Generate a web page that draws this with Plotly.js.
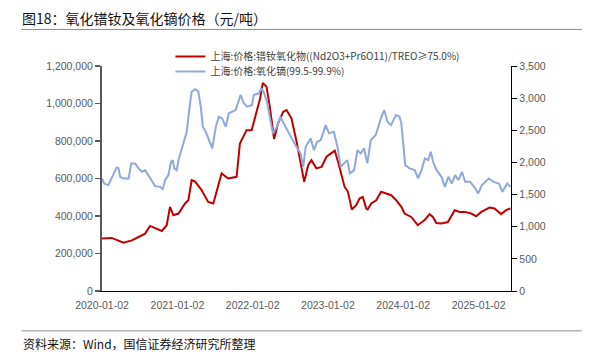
<!DOCTYPE html>
<html>
<head>
<meta charset="utf-8">
<script src="https://cdn.plot.ly/plotly-3.0.1.min.js"></script>
<style>html,body{margin:0;padding:0;background:#fff;}#chart{width:601px;height:363px;}</style>
</head>
<body>
<div id="chart"></div>
<script>
const ndprDates = ["2020-01-02","2020-02-18","2020-04-15","2020-05-26","2020-06-27","2020-07-29","2020-08-22","2020-10-18","2020-11-11","2020-11-27","2020-12-13","2021-01-07","2021-02-08","2021-02-24","2021-03-12","2021-03-28","2021-04-29","2021-05-31","2021-06-25","2021-07-11","2021-08-04","2021-09-05","2021-10-16","2021-11-01","2021-12-03","2021-12-28","2022-01-21","2022-02-07","2022-02-20","2022-03-10","2022-03-26","2022-04-16","2022-05-05","2022-05-30","2022-06-15","2022-07-09","2022-08-03","2022-08-27","2022-09-09","2022-09-28","2022-10-14","2022-11-07","2022-12-02","2022-12-26","2023-01-27","2023-02-04","2023-02-20","2023-03-08","2023-03-24","2023-04-09","2023-04-28","2023-05-19","2023-06-04","2023-06-20","2023-07-07","2023-07-14","2023-07-31","2023-08-24","2023-09-17","2023-10-12","2023-11-05","2023-11-29","2023-12-24","2024-01-09","2024-02-10","2024-03-13","2024-04-15","2024-05-09","2024-05-25","2024-06-11","2024-07-05","2024-08-06","2024-09-08","2024-10-02","2024-10-26","2024-11-27","2024-12-21","2025-01-15","2025-02-24","2025-03-20","2025-04-21","2025-05-15","2025-06-05"];
const ndprValues = [280000,283000,258000,270000,288000,306000,347000,320000,351000,449000,404000,413000,467000,484000,591000,585000,538000,475000,467000,529000,627000,600000,609000,787000,858000,858000,956000,1027000,1110000,1090000,983000,810000,894000,956000,965000,921000,796000,662000,582000,671000,698000,654000,662000,716000,742000,748000,689000,627000,555000,529000,435000,458000,493000,502000,440000,435000,467000,484000,529000,520000,511000,484000,449000,413000,395000,351000,378000,410000,395000,363000,360000,368000,431000,422000,422000,413000,399000,422000,445000,440000,410000,431000,440000];

const dyDates = ["2020-01-02","2020-01-13","2020-02-02","2020-02-26","2020-03-13","2020-03-22","2020-03-30","2020-04-15","2020-05-10","2020-05-23","2020-06-11","2020-06-27","2020-07-14","2020-07-29","2020-08-14","2020-08-31","2020-09-16","2020-10-10","2020-10-23","2020-11-03","2020-11-19","2020-12-02","2020-12-10","2020-12-18","2020-12-29","2021-01-07","2021-01-20","2021-02-04","2021-02-16","2021-02-28","2021-03-12","2021-03-28","2021-04-13","2021-04-26","2021-05-05","2021-05-19","2021-06-04","2021-06-20","2021-07-07","2021-07-22","2021-08-07","2021-08-24","2021-09-08","2021-10-11","2021-11-04","2021-11-20","2021-12-06","2021-12-30","2022-01-07","2022-02-01","2022-02-13","2022-02-24","2022-03-12","2022-03-29","2022-04-10","2022-04-30","2022-05-16","2022-06-10","2022-07-04","2022-07-28","2022-08-22","2022-09-04","2022-09-16","2022-10-10","2022-10-26","2022-11-11","2022-11-28","2022-12-22","2023-01-07","2023-01-31","2023-02-17","2023-03-05","2023-03-21","2023-04-06","2023-04-19","2023-05-09","2023-05-25","2023-06-10","2023-06-26","2023-07-12","2023-07-29","2023-08-22","2023-09-16","2023-10-02","2023-10-18","2023-11-04","2023-11-28","2023-12-15","2023-12-24","2023-12-31","2024-01-12","2024-02-02","2024-02-27","2024-03-14","2024-03-31","2024-04-16","2024-05-02","2024-05-15","2024-05-26","2024-06-12","2024-07-06","2024-07-22","2024-08-08","2024-08-25","2024-09-10","2024-09-26","2024-10-13","2024-10-29","2024-11-22","2024-12-17","2024-12-30","2025-01-18","2025-02-20","2025-03-16","2025-04-10","2025-04-27","2025-05-21","2025-06-05"];
const dyValues = [1750,1670,1647,1829,1922,1910,1776,1751,1751,1985,1985,1907,1854,1880,1803,1725,1631,1620,1580,1725,1803,2010,2036,1907,1880,2036,2192,2348,2477,2815,3100,3138,3110,2850,2555,2477,2348,2219,2555,2711,2685,2555,2764,2815,3049,2920,2867,2893,3049,3075,3153,3100,2945,2686,2452,2555,2711,2555,2400,2270,2141,1932,2243,2374,2192,2321,2348,2581,2452,2477,2243,1932,1985,2036,1829,1880,2192,2140,2220,1985,2348,2426,2686,2815,2633,2581,2737,2711,2607,2348,1958,1907,1880,1751,1880,2063,2036,2166,2010,1880,1776,1620,1776,1673,1803,1725,1854,1698,1698,1595,1517,1647,1751,1698,1673,1542,1673,1620];

const leftTickVals = [0,200000,400000,600000,800000,1000000,1200000];
const leftTickText = ["0","200,000","400,000","600,000","800,000","1,000,000","1,200,000"];
const rightTickVals = [0,500,1000,1500,2000,2500,3000,3500];
const rightTickText = ["0","500","1,000","1,500","2,000","2,500","3,000","3,500"];
const xTickVals = ["2020-01-02","2021-01-02","2022-01-02","2023-01-02","2024-01-02","2025-01-02"];
const xTickText = ["2020-01-02","2021-01-02","2022-01-02","2023-01-02","2024-01-02","2025-01-02"];

const ndprName = "上海:价格:镨钕氧化物((Nd2O3+Pr6O11)/TREO≥75.0%)";
const dyName = "上海:价格:氧化镝(99.5-99.9%)";
const titleText = "图18：氧化镨钕及氧化镝价格（元/吨）";
const sourceText = "资料来源：Wind，国信证券经济研究所整理";

const tickFont = {family: "Liberation Sans, Arial, sans-serif", size: 10.5, color: "#595959"};

const traces = [
  {x: ndprDates, y: ndprValues, name: ndprName, type: "scatter", mode: "lines",
   line: {color: "#C00000", width: 2}, yaxis: "y", legend: "legend"},
  {x: dyDates, y: dyValues, name: dyName, type: "scatter", mode: "lines",
   line: {color: "#8EA9DB", width: 2}, yaxis: "y2", legend: "legend2"}
];

const legendFont = {family: "Noto Sans CJK SC, sans-serif", size: 10, color: "#404040"};
const layout = {
  width: 601, height: 363,
  margin: {l: 101.5, r: 90, t: 66, b: 72.3},
  paper_bgcolor: "#ffffff", plot_bgcolor: "#ffffff",
  showlegend: true,
  title: {text: titleText, x: 22/601, xref: "container", xanchor: "left",
          y: 1 - 19/363, yref: "container", yanchor: "middle",
          font: {family: "Noto Sans CJK SC, sans-serif", size: 14, color: "#111"}},
  xaxis: {type: "date", range: ["2020-01-02", "2025-06-08"], tickvals: xTickVals, ticktext: xTickText,
          showgrid: false, zeroline: false, showline: true, linecolor: "#000", linewidth: 1.2,
          ticks: "", tickfont: tickFont, ticklabelstandoff: 4},
  yaxis: {range: [0, 1200000], tickvals: leftTickVals, ticktext: leftTickText,
          showgrid: false, zeroline: false, showline: true, linecolor: "#595959", linewidth: 2,
          ticks: "outside", ticklen: 5, tickcolor: "#595959", tickwidth: 1.5, tickfont: tickFont},
  yaxis2: {range: [0, 3500], tickvals: rightTickVals, ticktext: rightTickText, overlaying: "y", side: "right",
          showgrid: false, zeroline: false, showline: true, linecolor: "#000", linewidth: 1.2,
          ticks: "outside", ticklen: 5, tickcolor: "#000", tickfont: tickFont},
  legend: {x: (170 - 101.5)/409.5, xanchor: "left", y: (290.7 - 56.5)/224.7, yanchor: "middle",
           bgcolor: "rgba(0,0,0,0)", font: legendFont, borderwidth: 0},
  legend2: {x: (170 - 101.5)/409.5, xanchor: "left", y: (290.7 - 71.5)/224.7, yanchor: "middle",
           bgcolor: "rgba(0,0,0,0)", font: legendFont, borderwidth: 0},
  shapes: [
    {type: "line", xref: "paper", yref: "paper", x0: (21-101.5)/409.5, x1: (582-101.5)/409.5,
     y0: (290.7-29.5)/224.7, y1: (290.7-29.5)/224.7, line: {color: "#8c8c8c", width: 1}},
    {type: "line", xref: "paper", yref: "paper", x0: (21-101.5)/409.5, x1: (582-101.5)/409.5,
     y0: (290.7-330.5)/224.7, y1: (290.7-330.5)/224.7, line: {color: "#8c8c8c", width: 1}}
  ],
  annotations: [
    {text: sourceText, xref: "paper", yref: "paper", x: (20-101.5)/409.5, xanchor: "left",
     y: (290.7-343)/224.7, yanchor: "middle", showarrow: false,
     font: {family: "Noto Sans CJK SC, sans-serif", size: 12, color: "#111"}}
  ]
};

Plotly.newPlot("chart", traces, layout, {displayModeBar: false, staticPlot: true});
</script>
</body>
</html>
